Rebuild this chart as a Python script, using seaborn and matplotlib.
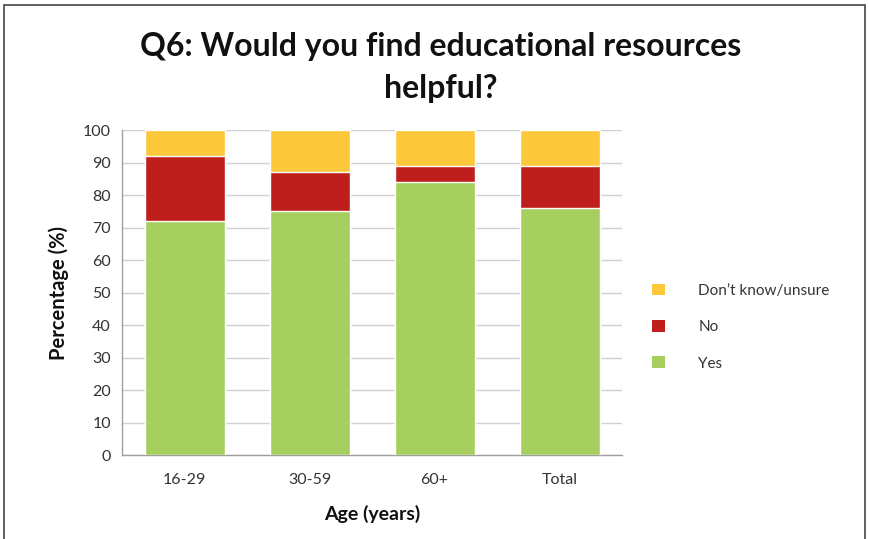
import matplotlib
matplotlib.use("Agg")
import matplotlib.pyplot as plt
import seaborn as sns
import pandas as pd
from matplotlib.patches import Patch

categories = ["16-29", "30-59", "60+", "Total"]
yes = [72, 75, 84, 76]
no = [20, 12, 5, 13]
dont_know = [8, 13, 11, 11]

colors = {"Yes": "#A6CF5F", "No": "#BE1F1C", "Don\u2019t know/unsure": "#FEC83C"}

sns.set_theme(style="white")
plt.rcParams['font.family'] = ['Lato', 'DejaVu Sans']

df = pd.DataFrame({"Age": categories, "Yes": yes, "No": no, "DK": dont_know})
df["YesNo"] = df["Yes"] + df["No"]
df["All"] = df["YesNo"] + df["DK"]

fig = plt.figure(figsize=(8.69, 5.39), dpi=100)
ax = fig.add_axes([0.1404, 0.1558, 0.5754, 0.603])

w = 0.64
sns.barplot(data=df, x="Age", y="All", color=colors["Don\u2019t know/unsure"], width=w, saturation=1, ax=ax, zorder=3)
sns.barplot(data=df, x="Age", y="YesNo", color=colors["No"], width=w, saturation=1, ax=ax, zorder=3)
sns.barplot(data=df, x="Age", y="Yes", color=colors["Yes"], width=w, saturation=1, ax=ax, zorder=3)

ax.set_ylim(0, 100)
ax.set_xlim(-0.5, 3.5)
ax.set_yticks(range(0, 101, 10))
ax.yaxis.grid(True, color="#D0D0D0", linewidth=1, zorder=0)
ax.set_axisbelow(True)
for s in ["top", "right"]:
    ax.spines[s].set_visible(False)
for s in ["left", "bottom"]:
    ax.spines[s].set_color("#A0A0A0")
    ax.spines[s].set_linewidth(1)
ax.tick_params(axis="both", labelsize=11.5, colors="#333333", length=0, pad=8)
ax.tick_params(axis="x", pad=13)

ax.set_xlabel("Age (years)", fontsize=14, fontweight="bold", color="#111111", labelpad=13)
ax.set_ylabel("Percentage (%)", fontsize=14.5, fontweight="bold", color="#111111", labelpad=10)

fig.text(0.507, 0.875, "Q6: Would you find educational resources\nhelpful?", ha="center", va="center",
         fontsize=23, fontweight="bold", color="#111111", linespacing=1.55)

handles = [Patch(facecolor=colors[k], edgecolor="none") for k in ["Don\u2019t know/unsure", "No", "Yes"]]
fig.legend(handles, ["Don\u2019t know/unsure", "No", "Yes"], loc="center left",
           bbox_to_anchor=(0.735, 0.393), frameon=False, fontsize=11,
           handlelength=0.8, handleheight=0.8, handletextpad=2.2, labelspacing=1.45, labelcolor="#333333")

# figure border
fig.patches.append(plt.Rectangle((0.005, -0.01), 0.99, 1.0, transform=fig.transFigure,
                                 fill=False, edgecolor="#444444", linewidth=1.2))

fig.savefig("out.png", dpi=100)
